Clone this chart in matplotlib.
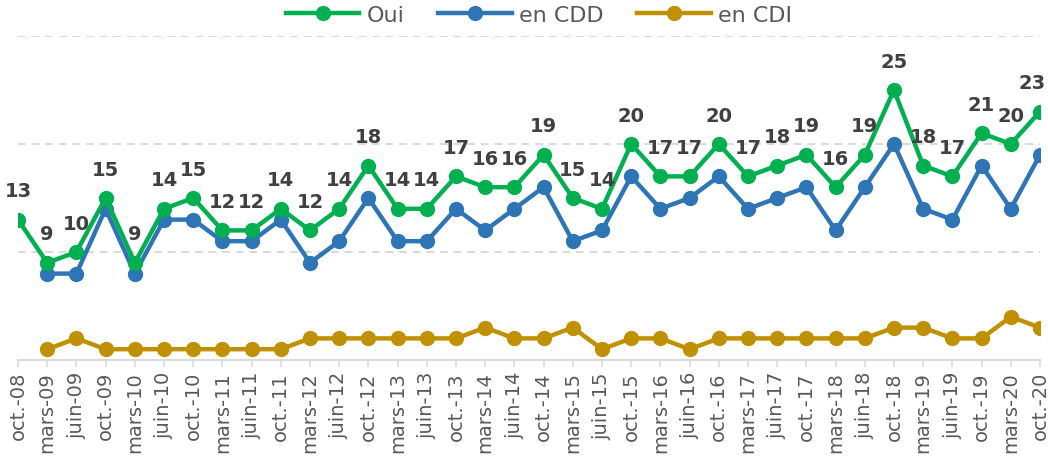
import matplotlib
matplotlib.use('Agg')
import matplotlib.pyplot as plt
import numpy as np

periods = ['oct.-08', 'mars-09', 'juin-09', 'oct.-09', 'mars-10', 'juin-10', 'oct.-10',
           'mars-11', 'juin-11', 'oct.-11', 'mars-12', 'juin-12', 'oct.-12',
           'mars-13', 'juin-13', 'oct.-13', 'mars-14', 'juin-14', 'oct.-14',
           'mars-15', 'juin-15', 'oct.-15', 'mars-16', 'juin-16', 'oct.-16',
           'mars-17', 'juin-17', 'oct.-17', 'mars-18', 'juin-18', 'oct.-18',
           'mars-19', 'juin-19', 'oct.-19', 'mars-20', 'oct.-20']

oui = [13, 9, 10, 15, 9, 14, 15, 12, 12, 14, 12, 14, 18, 14, 14, 17, 16, 16, 19,
       15, 14, 20, 17, 17, 20, 17, 18, 19, 16, 19, 25, 18, 17, 21, 20, 23]
# no value for oct.-08 in the two detail series
en_cdd = [None, 8, 8, 14, 8, 13, 13, 11, 11, 13, 9, 11, 15, 11, 11, 14, 12, 14, 16,
          11, 12, 17, 14, 15, 17, 14, 15, 16, 12, 16, 20, 14, 13, 18, 14, 19]
en_cdi = [None, 1, 2, 1, 1, 1, 1, 1, 1, 1, 2, 2, 2, 2, 2, 2, 3, 2, 2,
          3, 1, 2, 2, 1, 2, 2, 2, 2, 2, 2, 3, 3, 2, 2, 4, 3]

green = '#00B050'
blue = '#2E75B6'
gold = '#BF9000'
txt = '#404040'

plt.rcParams['font.family'] = ['DejaVu Sans']

fig = plt.figure(figsize=(10.48, 4.64), dpi=100)
ax = fig.add_axes([18/1048, 103/464, 1022/1048, 324/464])

x = np.arange(len(periods))

def to_arr(vals):
    return np.array([np.nan if v is None else v for v in vals], dtype=float)

ax.plot(x, to_arr(en_cdi), color=gold, lw=3.2, marker='o', ms=10, label='en CDI', zorder=3)
ax.plot(x, to_arr(en_cdd), color=blue, lw=3.2, marker='o', ms=10, label='en CDD', zorder=4)
ax.plot(x, to_arr(oui), color=green, lw=3.2, marker='o', ms=10, label='Oui', zorder=5)

for xi, v in zip(x, oui):
    dx = -6 if xi == len(periods) - 1 else 0
    ax.annotate(str(v), (xi, v), xytext=(dx, 14), textcoords='offset points',
                ha='center', va='bottom', fontsize=14, fontweight='bold', color=txt, zorder=6)

ax.set_xlim(0, len(periods) - 1)
ax.set_ylim(0, 30)
ax.set_yticks([10, 20, 30])
ax.yaxis.grid(True, color='#D9D9D9', ls=(0, (4, 3)), lw=1.4)
ax.set_axisbelow(True)
ax.tick_params(axis='y', left=False, labelleft=False)

ax.set_xticks(x)
ax.set_xticklabels(periods, rotation=90, fontsize=14, color='#595959')
ax.tick_params(axis='x', color='#D9D9D9', length=5, width=1.2, pad=3)

for s in ['top', 'right', 'left']:
    ax.spines[s].set_visible(False)
ax.spines['bottom'].set_color('#D9D9D9')
ax.spines['bottom'].set_linewidth(1.4)

handles, labels = ax.get_legend_handles_labels()
order = [2, 1, 0]
ax.legend([handles[i] for i in order], [labels[i] for i in order],
          loc='center', bbox_to_anchor=(0.51, 1.065), ncol=3, frameon=False,
          fontsize=16, handlelength=3.3, columnspacing=1.5, labelcolor='#595959',
          handletextpad=0.35)

fig.savefig('out.png', dpi=100)
